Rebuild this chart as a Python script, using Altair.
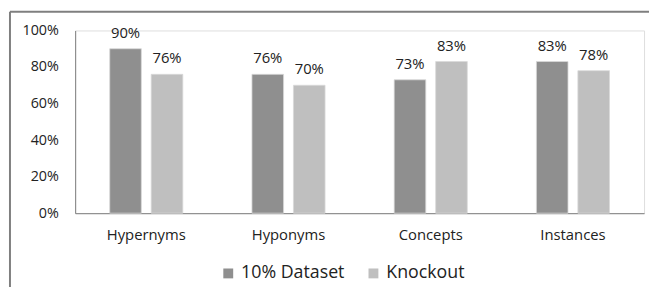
import altair as alt
import pandas as pd

categories = ["Hypernyms", "Hyponyms", "Concepts", "Instances"]
series_names = ["10% Dataset", "Knockout"]
dataset_10 = [0.90, 0.76, 0.73, 0.83]
knockout = [0.76, 0.70, 0.83, 0.78]

rows = []
for i, c in enumerate(categories):
    rows.append({"category": c, "series": series_names[0], "value": dataset_10[i]})
    rows.append({"category": c, "series": series_names[1], "value": knockout[i]})
df = pd.DataFrame(rows)

FONT = "Open Sans"
colors = ["#8f8f8f", "#bfbfbf"]

x_enc = alt.X("category:N", sort=categories, title=None,
              scale=alt.Scale(paddingInner=0, paddingOuter=0),
              axis=alt.Axis(labelAngle=0, ticks=False, domainColor="#7f7f7f",
                            labelFont=FONT, labelFontSize=15, labelColor="#222222",
                            labelPadding=15))
xoff = alt.XOffset("series:N", sort=series_names,
                   scale=alt.Scale(paddingInner=0.238, paddingOuter=0.833))
y_enc = alt.Y("value:Q", title=None,
              scale=alt.Scale(domain=[0, 1]),
              axis=alt.Axis(format=".0%", values=[0, 0.2, 0.4, 0.6, 0.8, 1.0],
                            grid=False, ticks=False, domainColor="#7f7f7f",
                            labelOverlap=False, labelFlush=False,
                            labelFont=FONT, labelFontSize=14.5, labelColor="#222222",
                            labelPadding=17))

bars = alt.Chart(df).mark_bar(stroke="#d9d9d9", strokeWidth=0.8).encode(
    x=x_enc, xOffset=xoff, y=y_enc,
    color=alt.Color("series:N", sort=series_names,
                    scale=alt.Scale(domain=series_names, range=colors),
                    legend=alt.Legend(title=None, orient="none", direction="horizontal",
                                      legendX=146, legendY=237, symbolType="square",
                                      symbolSize=100, symbolStrokeWidth=0,
                                      labelFont=FONT, labelFontSize=18,
                                      labelColor="#222222", columnPadding=20,
                                      symbolOffset=0, labelOffset=4)),
)

labels = alt.Chart(df).mark_text(baseline="bottom", dy=-8, font=FONT, fontSize=15,
                                 color="#222222").encode(
    x=x_enc, xOffset=xoff, y=y_enc,
    text=alt.Text("value:Q", format=".0%"),
)

frame_df = pd.DataFrame({"k": [1]})
frame_top = alt.Chart(frame_df).mark_rule(color="#7f7f7f", strokeWidth=2, clip=False).encode(
    x=alt.value(-66), x2=alt.value(640), y=alt.value(-19))
frame_left = alt.Chart(frame_df).mark_rule(color="#7f7f7f", strokeWidth=2, clip=False).encode(
    x=alt.value(-66), y=alt.value(-19), y2=alt.value(290))

chart = alt.layer(bars, labels, frame_top, frame_left).properties(
    width=576, height=185,
    autosize=alt.AutoSizeParams(type="none"),
    padding={"left": 68, "top": 21, "right": 5, "bottom": 73},
).configure_view(stroke=None).configure_axis(labelOverlap=False).configure(background="white")

chart.save("out.html", embed_options={"renderer": "svg", "actions": False})
